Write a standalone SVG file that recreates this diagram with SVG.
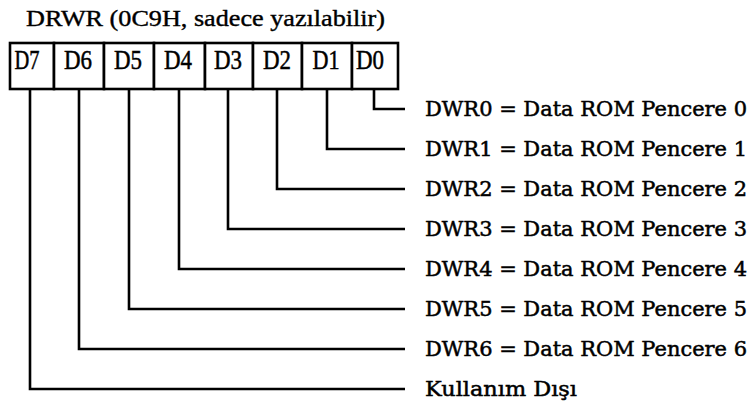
<svg xmlns="http://www.w3.org/2000/svg" width="756" height="405" viewBox="0 0 756 405">
  <style>
    .title { font-family: "Liberation Serif", "Times New Roman", serif; font-size: 24px; fill: #000; stroke: #000; stroke-width: 0.4; }
    .bit { font-family: "Liberation Serif", "Times New Roman", serif; font-size: 27px; fill: #000; stroke: #000; stroke-width: 0.5; text-anchor: middle; }
    .lbl { font-family: "DejaVu Serif", "Liberation Serif", serif; font-size: 21px; fill: #000; stroke: #000; stroke-width: 0.5; }
    .box { fill: #fff; stroke: #000; stroke-width: 2.6; }
    .wire { fill: none; stroke: #000; stroke-width: 2.6; stroke-linejoin: miter; }
  </style>
  <rect width="756" height="405" fill="#fff"/>

  <!-- register title -->
  <text class="title" x="26" y="26" textLength="359" lengthAdjust="spacingAndGlyphs">DRWR (0C9H, sadece yazılabilir)</text>

  <!-- 8-bit register cells -->
  <g id="register">
    <g id="bit-d7"><rect class="box" x="10" y="43" width="44" height="46"/><text class="bit" x="27" y="69" textLength="25" lengthAdjust="spacingAndGlyphs">D7</text></g>
    <g id="bit-d6"><rect class="box" x="54" y="43" width="50" height="46"/><text class="bit" x="78" y="69" textLength="28" lengthAdjust="spacingAndGlyphs">D6</text></g>
    <g id="bit-d5"><rect class="box" x="104" y="43" width="50" height="46"/><text class="bit" x="128" y="69" textLength="28" lengthAdjust="spacingAndGlyphs">D5</text></g>
    <g id="bit-d4"><rect class="box" x="154" y="43" width="51" height="46"/><text class="bit" x="178" y="69" textLength="28" lengthAdjust="spacingAndGlyphs">D4</text></g>
    <g id="bit-d3"><rect class="box" x="205" y="43" width="48" height="46"/><text class="bit" x="228" y="69" textLength="28" lengthAdjust="spacingAndGlyphs">D3</text></g>
    <g id="bit-d2"><rect class="box" x="253" y="43" width="49" height="46"/><text class="bit" x="277" y="69" textLength="28" lengthAdjust="spacingAndGlyphs">D2</text></g>
    <g id="bit-d1"><rect class="box" x="302" y="43" width="50" height="46"/><text class="bit" x="326" y="69" textLength="27" lengthAdjust="spacingAndGlyphs">D1</text></g>
    <g id="bit-d0"><rect class="box" x="352" y="43" width="46" height="46"/><text class="bit" x="370" y="69" textLength="28" lengthAdjust="spacingAndGlyphs">D0</text></g>
  </g>

  <!-- bit-to-description leaders -->
  <g id="connectors">
    <path class="wire" d="M374 89 V109 H405"/>
    <path class="wire" d="M327 89 V149 H405"/>
    <path class="wire" d="M277 89 V189 H405"/>
    <path class="wire" d="M228 89 V229 H405"/>
    <path class="wire" d="M179 89 V269 H405"/>
    <path class="wire" d="M129 89 V309 H405"/>
    <path class="wire" d="M79 89 V349 H405"/>
    <path class="wire" d="M30 89 V389 H405"/>
  </g>

  <!-- bit descriptions -->
  <g id="desc-d0"><text class="lbl" x="425" y="116" textLength="322" lengthAdjust="spacingAndGlyphs">DWR0 = Data ROM Pencere 0</text></g>
  <g id="desc-d1"><text class="lbl" x="425" y="156" textLength="322" lengthAdjust="spacingAndGlyphs">DWR1 = Data ROM Pencere 1</text></g>
  <g id="desc-d2"><text class="lbl" x="425" y="196" textLength="322" lengthAdjust="spacingAndGlyphs">DWR2 = Data ROM Pencere 2</text></g>
  <g id="desc-d3"><text class="lbl" x="425" y="236" textLength="322" lengthAdjust="spacingAndGlyphs">DWR3 = Data ROM Pencere 3</text></g>
  <g id="desc-d4"><text class="lbl" x="425" y="276" textLength="322" lengthAdjust="spacingAndGlyphs">DWR4 = Data ROM Pencere 4</text></g>
  <g id="desc-d5"><text class="lbl" x="425" y="316" textLength="322" lengthAdjust="spacingAndGlyphs">DWR5 = Data ROM Pencere 5</text></g>
  <g id="desc-d6"><text class="lbl" x="425" y="356" textLength="322" lengthAdjust="spacingAndGlyphs">DWR6 = Data ROM Pencere 6</text></g>
  <g id="desc-d7"><text class="lbl" x="425" y="396" textLength="152" lengthAdjust="spacingAndGlyphs">Kullanım Dışı</text></g>
</svg>
